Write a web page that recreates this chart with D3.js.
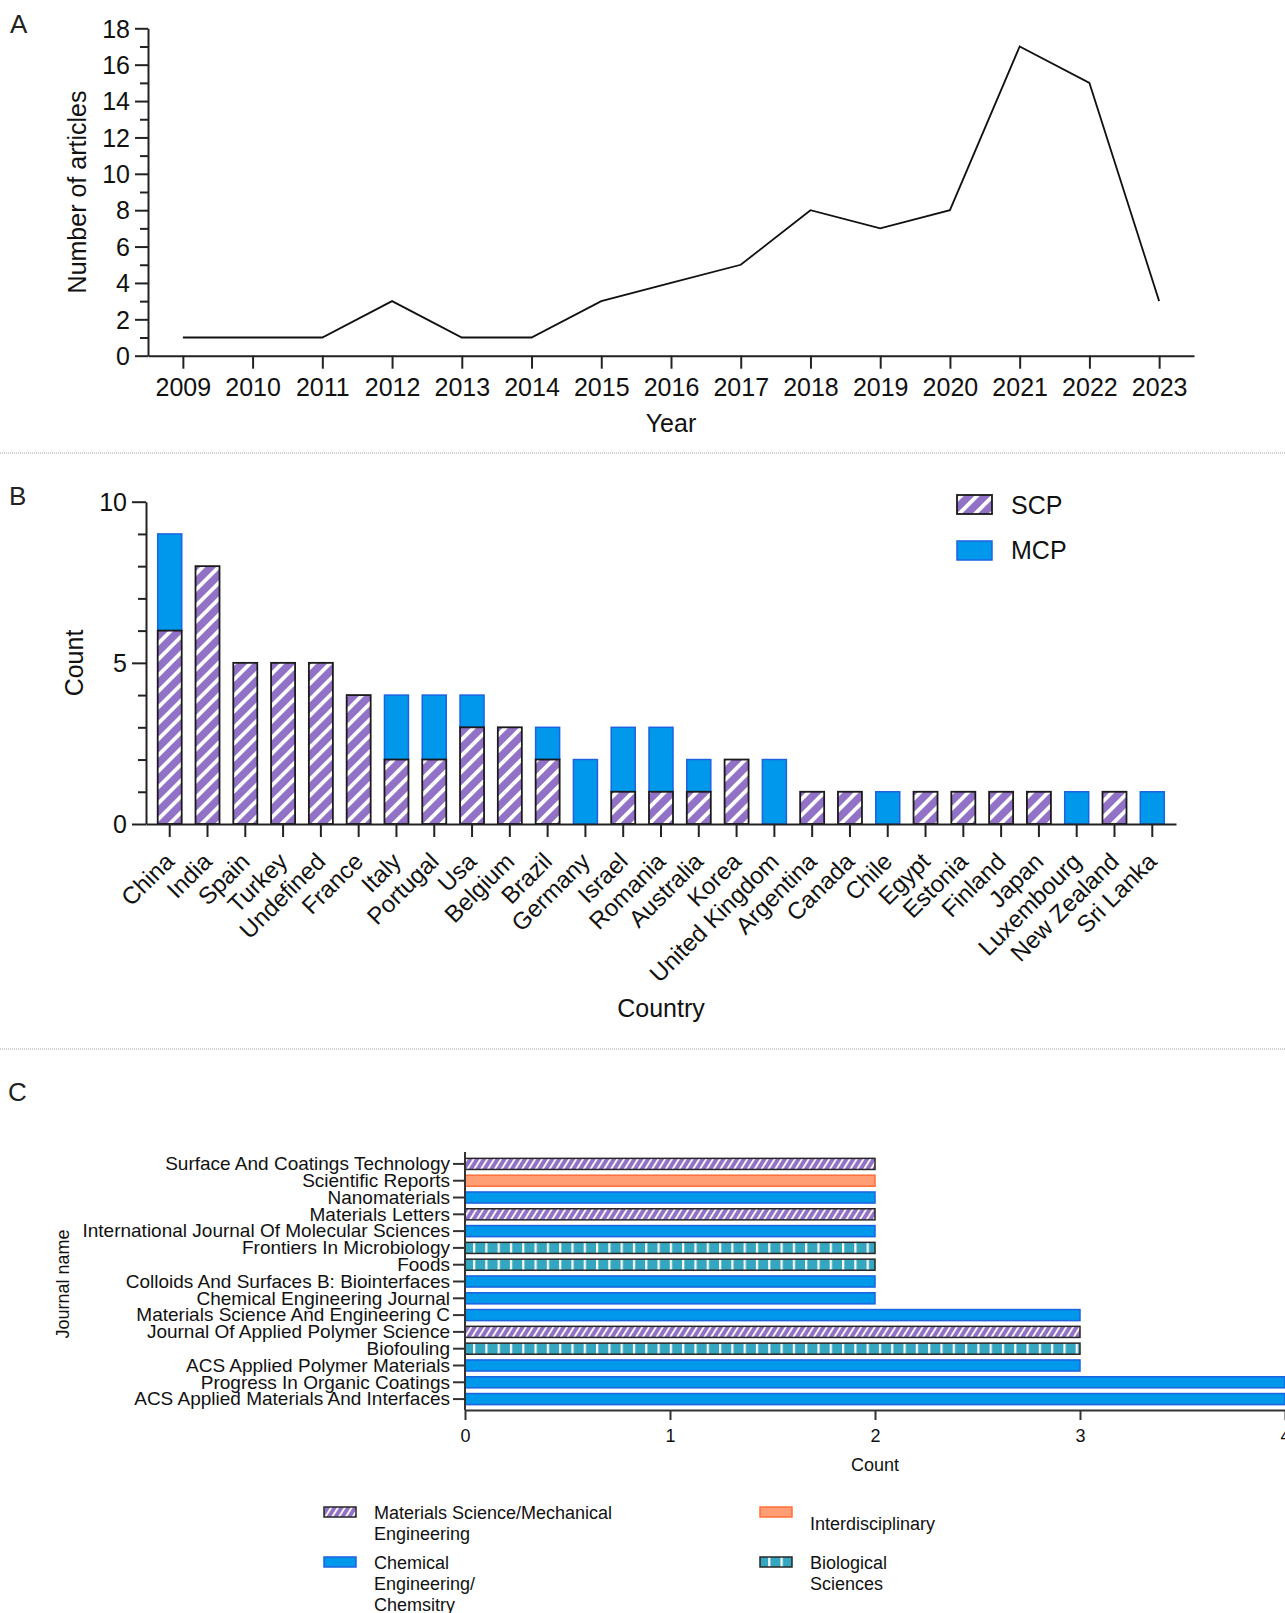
<!DOCTYPE html>
<html>
<head>
<meta charset="utf-8">
<script src="https://cdn.jsdelivr.net/npm/d3@7"></script>
<style>
  html, body { margin: 0; padding: 0; background: #fff; }
  svg { display: block; font-family: "Liberation Sans", Arial, sans-serif; }
</style>
</head>
<body>
<svg id="fig" width="1285" height="1613"></svg>
<script>
// ---- Panel A: articles per year ----
const years = ["2009","2010","2011","2012","2013","2014","2015","2016","2017","2018","2019","2020","2021","2022","2023"];
const articles = [1, 1, 1, 3, 1, 1, 3, 4, 5, 8, 7, 8, 17, 15, 3];
const articleTicks = [0, 2, 4, 6, 8, 10, 12, 14, 16, 18];

// ---- Panel B: country production (single / multiple country publications) ----
const countries = ["China","India","Spain","Turkey","Undefined","France","Italy","Portugal","Usa","Belgium","Brazil","Germany","Israel","Romania","Australia","Korea","United Kingdom","Argentina","Canada","Chile","Egypt","Estonia","Finland","Japan","Luxembourg","New Zealand","Sri Lanka"];
const scp = [6, 8, 5, 5, 5, 4, 2, 2, 3, 3, 2, 0, 1, 1, 1, 2, 0, 1, 1, 0, 1, 1, 1, 1, 0, 1, 0];
const mcp = [3, 0, 0, 0, 0, 0, 2, 2, 1, 0, 1, 2, 2, 2, 1, 0, 2, 0, 0, 1, 0, 0, 0, 0, 1, 0, 1];
const countTicks = [0, 5, 10];

// ---- Panel C: journals ----
const journals = ["Surface And Coatings Technology","Scientific Reports","Nanomaterials","Materials Letters","International Journal Of Molecular Sciences","Frontiers In Microbiology","Foods","Colloids And Surfaces B: Biointerfaces","Chemical Engineering Journal","Materials Science And Engineering C","Journal Of Applied Polymer Science","Biofouling","ACS Applied Polymer Materials","Progress In Organic Coatings","ACS Applied Materials And Interfaces"];
const journalCounts = [2, 2, 2, 2, 2, 2, 2, 2, 2, 3, 3, 3, 3, 4, 4];
const journalFields = ["ms","inter","chem","ms","chem","bio","bio","chem","chem","chem","ms","bio","chem","chem","chem"];
const fieldKeys = ["ms", "chem", "inter", "bio"];
const fieldNames = [["Materials Science/Mechanical", "Engineering"], ["Chemical", "Engineering/", "Chemsitry"], ["Interdisciplinary"], ["Biological", "Sciences"]];
const journalTicks = [0, 1, 2, 3, 4];

const svg = d3.select("#fig");
const defs = svg.append("defs");

const PURPLE = "#9272c6";
const BLUE = "#0098ea";
const BLUE_EDGE = "#1b63e0";
const SALMON = "#ff9e74";
const SALMON_EDGE = "#ff6e3c";
const TEAL = "#35a6bf";

// hatched purple used in panel B (wide stripes)
const pB = defs.append("pattern").attr("id", "scpHatch")
  .attr("patternUnits", "userSpaceOnUse").attr("width", 11.3).attr("height", 11.3)
  .attr("patternTransform", "rotate(45)");
pB.append("rect").attr("width", 11.3).attr("height", 11.3).attr("fill", PURPLE);
pB.append("rect").attr("x", 0).attr("width", 3.8).attr("height", 11.3).attr("fill", "#fff");

// hatched purple used in panel C (fine stripes)
const pC = defs.append("pattern").attr("id", "msHatch")
  .attr("patternUnits", "userSpaceOnUse").attr("width", 5.8).attr("height", 5.8)
  .attr("patternTransform", "rotate(32)");
pC.append("rect").attr("width", 5.8).attr("height", 5.8).attr("fill", PURPLE);
pC.append("rect").attr("x", 0).attr("width", 1.8).attr("height", 5.8).attr("fill", "#fff");

// teal with white vertical bars
const pBio = defs.append("pattern").attr("id", "bioBars")
  .attr("patternUnits", "userSpaceOnUse").attr("width", 12.3).attr("height", 20)
  .attr("x", 473);
pBio.append("rect").attr("width", 12.3).attr("height", 20).attr("fill", TEAL);
pBio.append("rect").attr("x", 0).attr("width", 2.2).attr("height", 20).attr("fill", "#fff");

const fieldStyle = {
  ms:    { fill: "url(#msHatch)", stroke: "#262626" },
  chem:  { fill: BLUE, stroke: BLUE_EDGE },
  inter: { fill: SALMON, stroke: SALMON_EDGE },
  bio:   { fill: "url(#bioBars)", stroke: "#262626" }
};

function styleAxis(g, width, color) {
  g.selectAll("path.domain").attr("stroke", color).attr("stroke-width", width);
  g.selectAll(".tick line").attr("stroke", color).attr("stroke-width", width);
  g.selectAll(".tick text").attr("fill", "#111").attr("font-family", '"Liberation Sans", Arial, sans-serif');
}

// panel letters
[["A", 10, 33], ["B", 9, 505], ["C", 8, 1101]].forEach(([t, x, y]) => {
  svg.append("text").attr("x", x).attr("y", y).attr("font-size", 26).attr("fill", "#222").text(t);
});

// panel separators
[453, 1049].forEach(y => {
  svg.append("line").attr("x1", 0).attr("x2", 1285).attr("y1", y).attr("y2", y)
    .attr("stroke", "#a0a0a0").attr("stroke-width", 1).attr("stroke-dasharray", "1,1");
});

// ================= Panel A =================
{
  const x = d3.scalePoint().domain(years).range([148, 1194]).padding(0.5);
  const y = d3.scaleLinear().domain([0, 18]).range([355.7, 28.3]);
  const g = svg.append("g");

  const minor = g.append("g").attr("transform", "translate(148,0)")
    .call(d3.axisLeft(y).tickValues(d3.range(1, 18, 2)).tickSize(8).tickFormat("").tickSizeOuter(0));
  minor.select("path.domain").remove();
  styleAxis(minor, 2, "#222");

  const ya = g.append("g").attr("transform", "translate(148,0)")
    .call(d3.axisLeft(y).tickValues(articleTicks).tickSize(13).tickSizeOuter(0).tickPadding(5));
  ya.selectAll(".tick text").attr("font-size", 25).attr("dy", "0.35em");
  styleAxis(ya, 2, "#222");

  const xa = g.append("g").attr("transform", "translate(0,355.7)")
    .call(d3.axisBottom(x).tickSize(13).tickSizeOuter(0).tickPadding(10));
  xa.selectAll(".tick text").attr("font-size", 25);
  styleAxis(xa, 2, "#222");

  g.append("path").datum(articles)
    .attr("fill", "none").attr("stroke", "#111").attr("stroke-width", 1.8)
    .attr("stroke-linejoin", "miter")
    .attr("d", d3.line().x((d, i) => x(years[i])).y(d => y(d)));

  g.append("text").attr("x", 671).attr("y", 432).attr("text-anchor", "middle")
    .attr("font-size", 25).attr("fill", "#111").text("Year");
  g.append("text").attr("transform", "translate(86,192) rotate(-90)").attr("text-anchor", "middle")
    .attr("font-size", 25).attr("fill", "#111").text("Number of articles");
}

// ================= Panel B =================
{
  const x = d3.scaleBand().domain(countries).range([146, 1176]).paddingInner(0.365).paddingOuter(0.31);
  const y = d3.scaleLinear().domain([0, 10]).range([824, 501.7]);
  const g = svg.append("g");

  const rows = countries.map((c, i) => ({ c, scp: scp[i], mcp: mcp[i] }));

  g.selectAll("rect.mcp").data(rows.filter(d => d.mcp > 0)).join("rect").attr("class", "mcp")
    .attr("x", d => x(d.c)).attr("width", x.bandwidth())
    .attr("y", d => y(d.scp + d.mcp)).attr("height", d => y(d.scp) - y(d.scp + d.mcp))
    .attr("fill", BLUE).attr("stroke", BLUE_EDGE).attr("stroke-width", 1.5);

  g.selectAll("rect.scp").data(rows.filter(d => d.scp > 0)).join("rect").attr("class", "scp")
    .attr("x", d => x(d.c)).attr("width", x.bandwidth())
    .attr("y", d => y(d.scp)).attr("height", d => y(0) - y(d.scp))
    .attr("fill", "url(#scpHatch)").attr("stroke", "#1a1a1a").attr("stroke-width", 1.8);

  const minor = g.append("g").attr("transform", "translate(146,0)")
    .call(d3.axisLeft(y).tickValues(d3.range(1, 10).filter(v => v !== 5)).tickSize(8).tickFormat(""));
  minor.select("path.domain").remove();
  styleAxis(minor, 2, "#222");

  const ya = g.append("g").attr("transform", "translate(146,0)")
    .call(d3.axisLeft(y).tickValues(countTicks).tickSize(14).tickSizeOuter(0).tickPadding(5));
  ya.selectAll(".tick text").attr("font-size", 25).attr("dy", "0.35em");
  styleAxis(ya, 2, "#222");

  const xa = g.append("g").attr("transform", "translate(0,824)")
    .call(d3.axisBottom(x).tickSize(13).tickSizeOuter(0));
  styleAxis(xa, 2, "#222");
  xa.selectAll(".tick text")
    .attr("font-size", 24).attr("text-anchor", "end")
    .attr("dy", 0).attr("y", 0)
    .attr("transform", "translate(6,39) rotate(-45)");

  g.append("text").attr("x", 661).attr("y", 1017).attr("text-anchor", "middle")
    .attr("font-size", 25).attr("fill", "#111").text("Country");
  g.append("text").attr("transform", "translate(83,663) rotate(-90)").attr("text-anchor", "middle")
    .attr("font-size", 25).attr("fill", "#111").text("Count");

  // legend
  const lg = g.append("g");
  lg.append("rect").attr("x", 957).attr("y", 495).attr("width", 35).attr("height", 19)
    .attr("fill", "url(#scpHatch)").attr("stroke", "#1a1a1a").attr("stroke-width", 1.8);
  lg.append("rect").attr("x", 957).attr("y", 541).attr("width", 35).attr("height", 19)
    .attr("fill", BLUE).attr("stroke", BLUE_EDGE).attr("stroke-width", 1.5);
  lg.append("text").attr("x", 1011).attr("y", 514).attr("font-size", 25).attr("fill", "#111").text("SCP");
  lg.append("text").attr("x", 1011).attr("y", 559).attr("font-size", 25).attr("fill", "#111").text("MCP");
}

// ================= Panel C =================
{
  const x = d3.scaleLinear().domain([0, 4]).range([465, 1285]);
  const y = d3.scaleBand().domain(journals).range([1153, 1410]).paddingInner(0.34).paddingOuter(0.32);
  const g = svg.append("g");

  const rows = journals.map((j, i) => ({ j, v: journalCounts[i], f: journalFields[i] }));
  g.selectAll("rect.jbar").data(rows).join("rect").attr("class", "jbar")
    .attr("x", x(0)).attr("y", d => y(d.j))
    .attr("width", d => x(d.v) - x(0)).attr("height", y.bandwidth())
    .attr("fill", d => fieldStyle[d.f].fill).attr("stroke", d => fieldStyle[d.f].stroke)
    .attr("stroke-width", 1.5);

  const ya = g.append("g").attr("transform", "translate(465,0)")
    .call(d3.axisLeft(y).tickSize(12).tickSizeOuter(0).tickPadding(3));
  ya.select("path.domain").attr("d", "M0,1152V1410");
  ya.selectAll(".tick text").attr("font-size", 19).attr("dy", "0.33em");
  styleAxis(ya, 2, "#333");

  const xa = g.append("g").attr("transform", "translate(0,1410)")
    .call(d3.axisBottom(x).tickValues(journalTicks).tickFormat(d3.format("d")).tickSize(10).tickSizeOuter(0).tickPadding(9));
  xa.selectAll(".tick text").attr("font-size", 18);
  styleAxis(xa, 2, "#333");

  g.append("text").attr("x", 875).attr("y", 1471).attr("text-anchor", "middle")
    .attr("font-size", 18).attr("fill", "#111").text("Count");
  g.append("text").attr("transform", "translate(69,1284) rotate(-90)").attr("text-anchor", "middle")
    .attr("font-size", 18).attr("fill", "#111").text("Journal name");

  // legend: two columns
  const pos = { ms: [324, 1507], chem: [324, 1557], inter: [760, 1507], bio: [760, 1557] };
  const textTop = { ms: 1519, chem: 1569, inter: 1530, bio: 1569 };
  fieldKeys.forEach((k, i) => {
    const [sx, sy] = pos[k];
    g.append("rect").attr("x", sx).attr("y", sy).attr("width", 32).attr("height", 10)
      .attr("fill", fieldStyle[k].fill).attr("stroke", fieldStyle[k].stroke).attr("stroke-width", 1.5);
    const t = g.append("text").attr("x", sx + 50).attr("y", textTop[k])
      .attr("font-size", 18).attr("fill", "#111");
    fieldNames[i].forEach((line, li) => {
      t.append("tspan").attr("x", sx + 50).attr("dy", li === 0 ? 0 : 21).text(line);
    });
  });
}
</script>
</body>
</html>
